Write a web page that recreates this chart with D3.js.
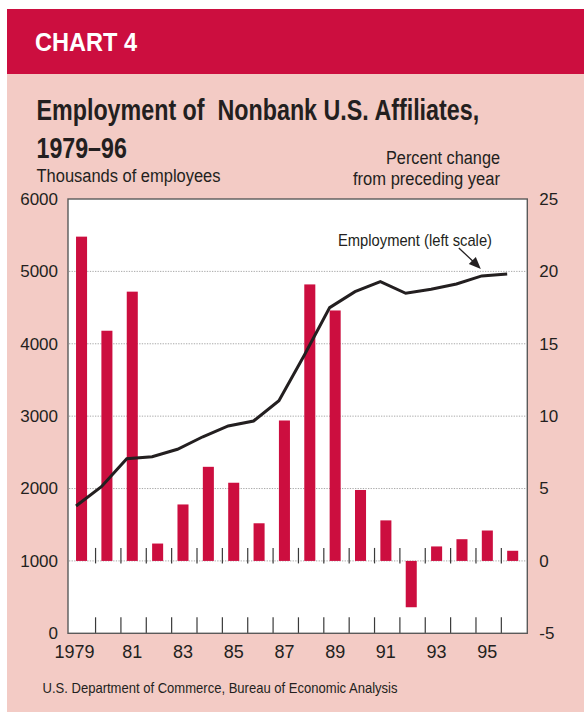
<!DOCTYPE html>
<html>
<head>
<meta charset="utf-8">
<script src="https://cdn.jsdelivr.net/npm/d3@7"></script>
<style>
  body { margin: 0; background: #fff; }
  svg { display: block; }
  text { font-family: "Liberation Sans", Arial, Helvetica, sans-serif; fill: #231f20; }
</style>
</head>
<body>
<div id="chart"></div>
<script>
// Data
const years = [1979, 1980, 1981, 1982, 1983, 1984, 1985, 1986, 1987, 1988,
               1989, 1990, 1991, 1992, 1993, 1994, 1995, 1996];
// thousands of employees (left scale, line)
const employment = [1759, 2026, 2412, 2440, 2542, 2715, 2864, 2933, 3214, 3840,
                    4499, 4720, 4858, 4697, 4752, 4826, 4937, 4964];
// percent change from preceding year (right scale, bars)
const pctChange = [22.4, 15.9, 18.6, 1.2, 3.9, 6.5, 5.4, 2.6, 9.7, 19.1,
                   17.3, 4.9, 2.8, -3.2, 1.0, 1.5, 2.1, 0.7];
const leftTicks = [0, 1000, 2000, 3000, 4000, 5000, 6000];
const rightTicks = [-5, 0, 5, 10, 15, 20, 25];
const gridTicks = [1000, 2000, 3000, 4000, 5000];
const yearLabels = ["1979", "81", "83", "85", "87", "89", "91", "93", "95"];

const W = 584, H = 712;
const red = "#cc0e3f", pink = "#f3cbc5", ink = "#231f20";
const plot = { left: 68, right: 527.3, top: 199, bottom: 633.3 };

const svg = d3.select("#chart").append("svg")
    .attr("width", W)
    .attr("height", H);

// Background panels
svg.append("rect").attr("x", 7).attr("y", 9).attr("width", W - 7).attr("height", 65).attr("fill", red);
svg.append("rect").attr("x", 7).attr("y", 74).attr("width", W - 7).attr("height", H - 74).attr("fill", pink);
svg.append("rect")
    .attr("x", plot.left).attr("y", plot.top)
    .attr("width", plot.right - plot.left).attr("height", plot.bottom - plot.top)
    .attr("fill", "#fff");

// Header texts
svg.append("text")
    .attr("x", 35).attr("y", 51)
    .attr("textLength", 102).attr("lengthAdjust", "spacingAndGlyphs")
    .style("font-size", "26px").style("font-weight", "bold").style("fill", "#fff")
    .text("CHART 4");

// title is narrowed with a horizontal scale, like the condensed face of the original
svg.append("text")
    .attr("transform", "translate(36.5,120) scale(0.803,1)")
    .style("font-size", "29px").style("font-weight", "bold").style("white-space", "pre")
    .text("Employment of  Nonbank U.S. Affiliates,");

svg.append("text")
    .attr("transform", "translate(36.5,158) scale(0.8,1)")
    .style("font-size", "29px").style("font-weight", "bold")
    .text("1979–96");

svg.append("text")
    .attr("x", 36.5).attr("y", 181.5)
    .attr("textLength", 184).attr("lengthAdjust", "spacingAndGlyphs")
    .style("font-size", "18px")
    .text("Thousands of employees");

svg.append("text")
    .attr("x", 500).attr("y", 164).attr("text-anchor", "end")
    .attr("textLength", 114).attr("lengthAdjust", "spacingAndGlyphs")
    .style("font-size", "18px")
    .text("Percent change");

svg.append("text")
    .attr("x", 500).attr("y", 185).attr("text-anchor", "end")
    .attr("textLength", 147).attr("lengthAdjust", "spacingAndGlyphs")
    .style("font-size", "18px")
    .text("from preceding year");

svg.append("text")
    .attr("x", 42.5).attr("y", 693)
    .attr("textLength", 355).attr("lengthAdjust", "spacingAndGlyphs")
    .style("font-size", "15px")
    .text("U.S. Department of Commerce, Bureau of Economic Analysis");

// Scales
const slot = d3.scaleBand()
    .domain(years)
    .range([70.2, 526.7])
    .padding(0);
const barW = slot.bandwidth() * 0.435;
const barX = d => slot(d) + slot.bandwidth() * 0.23;

const yL = d3.scaleLinear().domain([0, 6000]).range([plot.bottom, plot.top]);
const yR = d3.scaleLinear().domain([-5, 25]).range([plot.bottom, plot.top]);

// Grid lines
svg.append("g")
    .selectAll("line")
    .data(gridTicks)
    .join("line")
    .attr("x1", plot.left + 1).attr("x2", plot.right - 1)
    .attr("y1", d => yL(d)).attr("y2", d => yL(d))
    .attr("stroke", "#a8a8a8").attr("stroke-width", 1)
    .attr("stroke-dasharray", "1.3,1.3");

// Bars
svg.append("g")
    .selectAll("rect")
    .data(years)
    .join("rect")
    .attr("x", d => barX(d))
    .attr("width", barW)
    .attr("y", (d, i) => yR(Math.max(0, pctChange[i])))
    .attr("height", (d, i) => Math.abs(yR(pctChange[i]) - yR(0)))
    .attr("fill", red);

// Tick marks between years, at the bottom axis and at the zero line
const tickYears = years.slice(1);
const ticks = svg.append("g").attr("stroke", "#3a3a3a").attr("stroke-width", 1.2);
ticks.selectAll("line.bot")
    .data(tickYears)
    .join("line")
    .attr("class", "bot")
    .attr("x1", d => slot(d)).attr("x2", d => slot(d))
    .attr("y1", plot.bottom).attr("y2", plot.bottom - 16);
ticks.selectAll("line.zero")
    .data(tickYears)
    .join("line")
    .attr("class", "zero")
    .attr("x1", d => slot(d)).attr("x2", d => slot(d))
    .attr("y1", yR(0) + 2.5).attr("y2", yR(0) - 13);

// Employment line
const line = d3.line()
    .x((d, i) => barX(years[i]))
    .y(d => yL(d));
svg.append("path")
    .datum(employment)
    .attr("d", line)
    .attr("fill", "none")
    .attr("stroke", ink)
    .attr("stroke-width", 3)
    .attr("stroke-linejoin", "miter");

// Frame
svg.append("rect")
    .attr("x", plot.left).attr("y", plot.top)
    .attr("width", plot.right - plot.left).attr("height", plot.bottom - plot.top)
    .attr("fill", "none").attr("stroke", "#5a5a5a").attr("stroke-width", 1.4);

// Left axis labels
const leftAxis = svg.append("g")
    .attr("transform", `translate(${plot.left},0)`)
    .call(d3.axisLeft(yL).tickValues(leftTicks).tickSize(0).tickPadding(10).tickFormat(d => String(d)));
leftAxis.select(".domain").remove();
leftAxis.selectAll("text")
    .style("font-size", "17px")
    .style("font-family", "'Liberation Sans', Arial, sans-serif")
    .attr("fill", ink);

// Right axis labels
const rightAxis = svg.append("g")
    .attr("transform", `translate(${plot.right},0)`)
    .call(d3.axisRight(yR).tickValues(rightTicks).tickSize(0).tickPadding(12).tickFormat(d => String(d)));
rightAxis.select(".domain").remove();
rightAxis.selectAll("text")
    .style("font-size", "17px")
    .style("font-family", "'Liberation Sans', Arial, sans-serif")
    .attr("fill", ink);

// Year labels
svg.append("g")
    .selectAll("text")
    .data(yearLabels)
    .join("text")
    .attr("x", (d, i) => barX(years[i * 2]) + barW / 2)
    .attr("dx", (d, i) => i === 0 ? -7 : 0)
    .attr("y", 658)
    .attr("text-anchor", "middle")
    .style("font-size", "18px")
    .text(d => d);

// Annotation
const tip = [barX(1995) - 1, yL(employment[16]) - 7];
svg.append("text")
    .attr("x", 338).attr("y", 245.5)
    .attr("textLength", 154).attr("lengthAdjust", "spacingAndGlyphs")
    .style("font-size", "17px")
    .text("Employment (left scale)");
svg.append("line")
    .attr("x1", tip[0] - 22).attr("y1", tip[1] - 21)
    .attr("x2", tip[0] - 6).attr("y2", tip[1] - 6)
    .attr("stroke", ink).attr("stroke-width", 1.3);
svg.append("path")
    .attr("d", `M${tip[0]},${tip[1]} L${tip[0] - 12},${tip[1] - 5} L${tip[0] - 5},${tip[1] - 12} Z`)
    .attr("fill", ink);
</script>
</body>
</html>
